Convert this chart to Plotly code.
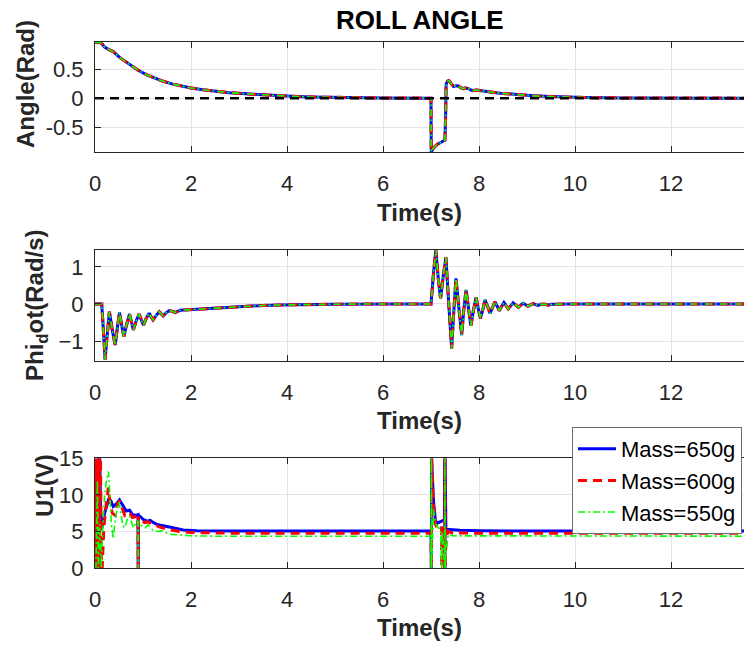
import plotly.graph_objects as go

# ---------------- data ----------------
series_names = ["Mass=650g", "Mass=600g", "Mass=550g"]
x_ticks = [0, 2, 4, 6, 8, 10, 12]

# Roll angle (rad) : (time, value)
angle_650 = [(0, 0.96), (0.1, 0.96), (0.15, 0.93), (0.2, 0.88), (0.3, 0.83), (0.38, 0.80),
             (0.45, 0.75), (0.5, 0.71), (0.6, 0.65), (0.73, 0.57), (0.9, 0.48), (1.08, 0.40),
             (1.25, 0.34), (1.42, 0.29), (1.6, 0.245), (1.77, 0.21), (2.0, 0.175), (2.25, 0.145),
             (2.46, 0.125), (2.8, 0.095), (3.15, 0.074), (3.5, 0.055), (3.85, 0.04), (4.2, 0.028),
             (4.5, 0.02), (5.0, 0.011), (5.5, 0.006), (6.0, 0.003), (7.0, 0.0), (7.005, -0.925),
             (7.05, -0.86), (7.12, -0.80), (7.22, -0.755), (7.29, -0.72), (7.305, -0.3),
             (7.315, 0.24), (7.34, 0.29), (7.375, 0.30), (7.42, 0.25), (7.47, 0.20), (7.52, 0.215),
             (7.57, 0.21), (7.62, 0.18), (7.67, 0.165), (7.72, 0.175), (7.78, 0.165), (7.83, 0.14),
             (7.88, 0.13), (7.95, 0.14), (8.02, 0.135), (8.2, 0.11), (8.44, 0.085), (8.8, 0.06),
             (9.13, 0.04), (9.5, 0.027), (9.83, 0.017), (10.2, 0.01), (11, 0.004), (12, 0.001),
             (13.6, 0)]
angle_600 = angle_650
angle_550 = angle_650
angle_ref = [(0, 0), (13.6, 0)]

# Roll rate (rad/s)
phi_650 = [(0, 0), (0.14, 0), (0.17, -0.6), (0.21, -1.50), (0.25, -0.9), (0.30, -0.21), (0.36, -0.7),
           (0.42, -1.11), (0.47, -0.6), (0.51, -0.23), (0.56, -0.6), (0.60, -0.88), (0.66, -0.55),
           (0.72, -0.27), (0.76, -0.5), (0.80, -0.70), (0.86, -0.45), (0.92, -0.27), (0.97, -0.45),
           (1.01, -0.57), (1.07, -0.38), (1.13, -0.25), (1.17, -0.35), (1.21, -0.43), (1.28, -0.30),
           (1.34, -0.21), (1.38, -0.27), (1.42, -0.32), (1.48, -0.24), (1.55, -0.18), (1.61, -0.20),
           (1.67, -0.23), (1.77, -0.17), (1.9, -0.16), (2.0, -0.14), (2.2, -0.12), (2.46, -0.10),
           (2.8, -0.075), (3.15, -0.054), (3.5, -0.04), (3.85, -0.027), (4.3, -0.015), (5.0, -0.006),
           (6.0, 0), (7.0, 0), (7.05, 0.8), (7.10, 1.46), (7.15, 0.7), (7.20, 0.15), (7.25, 0.7),
           (7.31, 1.26), (7.37, 0.0), (7.43, -1.20), (7.47, -0.3), (7.52, 0.69), (7.58, -0.1),
           (7.64, -0.84), (7.68, -0.2), (7.73, 0.38), (7.78, -0.1), (7.83, -0.59), (7.88, -0.2),
           (7.94, 0.18), (7.98, -0.1), (8.03, -0.39), (8.08, -0.15), (8.125, 0.11), (8.18, -0.07),
           (8.23, -0.25), (8.28, -0.10), (8.33, 0.06), (8.38, -0.06), (8.42, -0.18), (8.47, -0.07),
           (8.52, 0.04), (8.57, -0.05), (8.61, -0.13), (8.66, -0.05), (8.71, 0.03), (8.77, -0.03),
           (8.82, -0.09), (8.87, -0.03), (8.92, 0.02), (8.97, -0.02), (9.02, -0.06), (9.08, -0.02),
           (9.13, 0.01), (9.18, -0.015), (9.23, -0.04), (9.29, -0.01), (9.34, 0.0), (9.39, -0.01),
           (9.44, -0.03), (9.5, -0.01), (9.6, -0.01), (9.8, 0), (13.6, 0)]
phi_600 = phi_650
phi_550 = phi_650

# Control input U1 (V)
u1_650 = [(0, 0), (0.002, 7.2), (0.03, 7.2), (0.04, 0), (0.06, 0), (0.075, 15), (0.1, 15), (0.12, 6.0),
          (0.15, 5.5), (0.2, 7.5), (0.28, 9.3), (0.33, 9.2), (0.38, 8.4), (0.45, 8.8), (0.51, 9.3),
          (0.58, 8.5), (0.65, 7.8), (0.72, 7.9), (0.78, 7.3), (0.85, 7.2), (0.895, 7.3), (0.9, 0),
          (0.905, 7.2), (0.95, 7.0), (1.01, 6.6), (1.08, 6.4), (1.15, 6.5), (1.22, 6.2), (1.28, 6.0),
          (1.4, 5.8), (1.56, 5.56), (1.7, 5.35), (1.84, 5.2), (2.12, 5.1), (2.5, 5.07), (3.0, 5.05),
          (7.0, 5.05), (7.003, 15), (7.008, 0), (7.013, 15), (7.05, 9.3), (7.09, 6.6), (7.12, 6.1),
          (7.19, 6.3), (7.25, 6.5), (7.28, 6.6), (7.285, 15), (7.29, 0), (7.295, 15), (7.31, 5.3),
          (7.4, 5.25), (7.6, 5.15), (8.0, 5.08), (9.0, 5.05), (13.6, 5.05)]
u1_600 = [(0, 0), (0.01, 15), (0.02, 0), (0.03, 15), (0.045, 0), (0.06, 15), (0.075, 0), (0.09, 15),
          (0.105, 0), (0.115, 15), (0.13, 2), (0.15, 0), (0.18, 5), (0.22, 8), (0.28, 11), (0.31, 9),
          (0.36, 7.5), (0.42, 7.2), (0.47, 8.8), (0.51, 9.2), (0.56, 8.3), (0.62, 7.2), (0.68, 7.5),
          (0.72, 7.6), (0.78, 6.9), (0.85, 7.0), (0.895, 7.1), (0.9, 0), (0.905, 7.0), (0.97, 6.6),
          (1.03, 6.2), (1.1, 6.3), (1.17, 6.1), (1.25, 5.8), (1.35, 5.6), (1.5, 5.3), (1.65, 5.1),
          (1.8, 4.95), (2.0, 4.85), (2.5, 4.78), (3.0, 4.75), (7.0, 4.75), (7.003, 15), (7.008, 0),
          (7.013, 15), (7.05, 8.5), (7.09, 6.0), (7.12, 5.6), (7.19, 5.6), (7.22, 5.8), (7.225, 0),
          (7.235, 5.5), (7.285, 0), (7.29, 15), (7.295, 0), (7.31, 3.5), (7.35, 5.0), (7.45, 4.8),
          (8.0, 4.75), (13.6, 4.75)]
u1_550 = [(0, 0), (0.02, 0), (0.05, 12), (0.07, 0), (0.1, 6), (0.13, 0), (0.16, 5), (0.2, 10),
          (0.24, 12), (0.28, 13.2), (0.31, 10), (0.34, 6), (0.38, 4.0), (0.42, 6.5), (0.47, 8.5),
          (0.5, 9.0), (0.54, 7.5), (0.58, 5.8), (0.62, 5.5), (0.68, 6.8), (0.72, 7.1), (0.76, 6.3),
          (0.8, 5.5), (0.85, 6.1), (0.895, 6.5), (0.9, 0), (0.905, 6.4), (0.95, 6.0), (1.0, 5.6),
          (1.05, 5.5), (1.1, 5.9), (1.15, 5.6), (1.2, 5.2), (1.3, 5.0), (1.4, 5.1), (1.5, 4.8),
          (1.6, 4.6), (1.8, 4.5), (2.0, 4.4), (2.5, 4.35), (3.0, 4.35), (7.0, 4.35), (7.003, 0),
          (7.008, 15), (7.013, 0), (7.05, 8), (7.1, 6.0), (7.15, 5.5), (7.2, 5.4), (7.225, 0),
          (7.235, 5.0), (7.285, 0), (7.29, 15), (7.295, 0), (7.32, 2.6), (7.36, 4.6), (7.45, 4.4),
          (13.6, 4.35)]

# ---------------- styling ----------------
FONT = "Liberation Sans, Arial, Helvetica, sans-serif"
AX = "#262626"
GRID = "#e3e3e3"
styles = [
    dict(color="#0000ff", width=3, dash="solid"),
    dict(color="#ff0000", width=3, dash="9px,6px"),
    dict(color="#00ff00", width=1.6, dash="7px,3px,2px,3px"),
]


def xy(pairs):
    return [p[0] for p in pairs], [p[1] for p in pairs]


fig = go.Figure()
panels = [
    ("x", "y", [angle_650, angle_600, angle_550], False),
    ("x2", "y2", [phi_650, phi_600, phi_550], False),
    ("x3", "y3", [u1_650, u1_600, u1_550], True),
]
for xa, ya, datas, show in panels:
    for name, d, st in zip(series_names, datas, styles):
        t, v = xy(d)
        fig.add_trace(go.Scatter(x=t, y=v, mode="lines", name=name, line=st,
                                 xaxis=xa, yaxis=ya, showlegend=show))
rt, rv = xy(angle_ref)
fig.add_trace(go.Scatter(x=rt, y=rv, mode="lines", line=dict(color="black", width=2.5, dash="9px,6px"),
                         xaxis="x", yaxis="y", showlegend=False))

W, H = 744, 648
ML, MR, MT, MB = 95, 0, 42, 80
PW, PH = W - ML - MR, H - MT - MB


def py(p):
    return (H - MB - p) / PH


def px(p):
    return (p - ML) / PW


xcommon = dict(range=[0, PW / 48.0], tickvals=x_ticks, ticks="inside", ticklen=6, tickcolor=AX,
               showline=True, linecolor=AX, linewidth=1, mirror="ticks", showgrid=True,
               gridcolor=GRID, gridwidth=1, zeroline=False, ticklabelstandoff=12,
               tickfont=dict(family=FONT, size=22, color=AX))
ycommon = dict(ticks="inside", ticklen=6, tickcolor=AX, showline=True, linecolor=AX, linewidth=1,
               mirror=False, showgrid=True, gridcolor=GRID, gridwidth=1, zeroline=False,
               ticklabelstandoff=6, tickfont=dict(family=FONT, size=22, color=AX))

fig.update_layout(
    width=W, height=H, margin=dict(l=ML, r=MR, t=MT, b=MB, pad=0),
    paper_bgcolor="white", plot_bgcolor="white",
    font=dict(family=FONT, size=22, color=AX),
    xaxis=dict(xcommon, anchor="y", domain=[0, 1]),
    xaxis2=dict(xcommon, anchor="y2", domain=[0, 1]),
    xaxis3=dict(xcommon, anchor="y3", domain=[0, 1]),
    yaxis=dict(ycommon, anchor="x", domain=[py(152), 1.0], range=[-0.926, 0.966],
               tickvals=[-0.5, 0, 0.5], ticktext=["-0.5", "0", "0.5"]),
    yaxis2=dict(ycommon, anchor="x2", domain=[py(361), py(250.3)], range=[-1.54, 1.45],
                tickvals=[-1, 0, 1]),
    yaxis3=dict(ycommon, anchor="x3", domain=[0, py(458.3)], range=[0, 15],
                tickvals=[0, 5, 10, 15]),
    legend=dict(x=px(572), y=py(427), xanchor="left", yanchor="top", bgcolor="white",
                bordercolor="#6e6e6e", borderwidth=1, font=dict(family=FONT, size=22, color="black"),
                itemwidth=38, tracegroupgap=0),
    showlegend=True,
)

ann = [
    dict(text="<b>ROLL ANGLE</b>", x=0.5, y=py(20), font=dict(size=26, color="black")),
    dict(text="<b>Time(s)</b>", x=0.5, y=py(213), font=dict(size=24, color=AX)),
    dict(text="<b>Time(s)</b>", x=0.5, y=py(420), font=dict(size=24, color=AX)),
    dict(text="<b>Time(s)</b>", x=0.5, y=py(627), font=dict(size=24, color=AX)),
    dict(text="<b>Angle(Rad)</b>", x=px(25), y=py(84), textangle=-90, font=dict(size=24, color=AX)),
    dict(text="<b>Phi<sub>d</sub>ot(Rad/s)</b>", x=px(36), y=py(305), textangle=-90,
         font=dict(size=24, color=AX)),
    dict(text="<b>U1(V)</b>", x=px(44), y=py(486), textangle=-90, font=dict(size=24, color=AX)),
]
for a in ann:
    a.update(xref="paper", yref="paper", showarrow=False, xanchor="center", yanchor="middle")
    a["font"]["family"] = FONT
fig.update_layout(annotations=ann)

fig.write_html("out.html", config={"displayModeBar": False},
               post_script="document.body.style.margin='0px';document.body.style.overflow='hidden';")
